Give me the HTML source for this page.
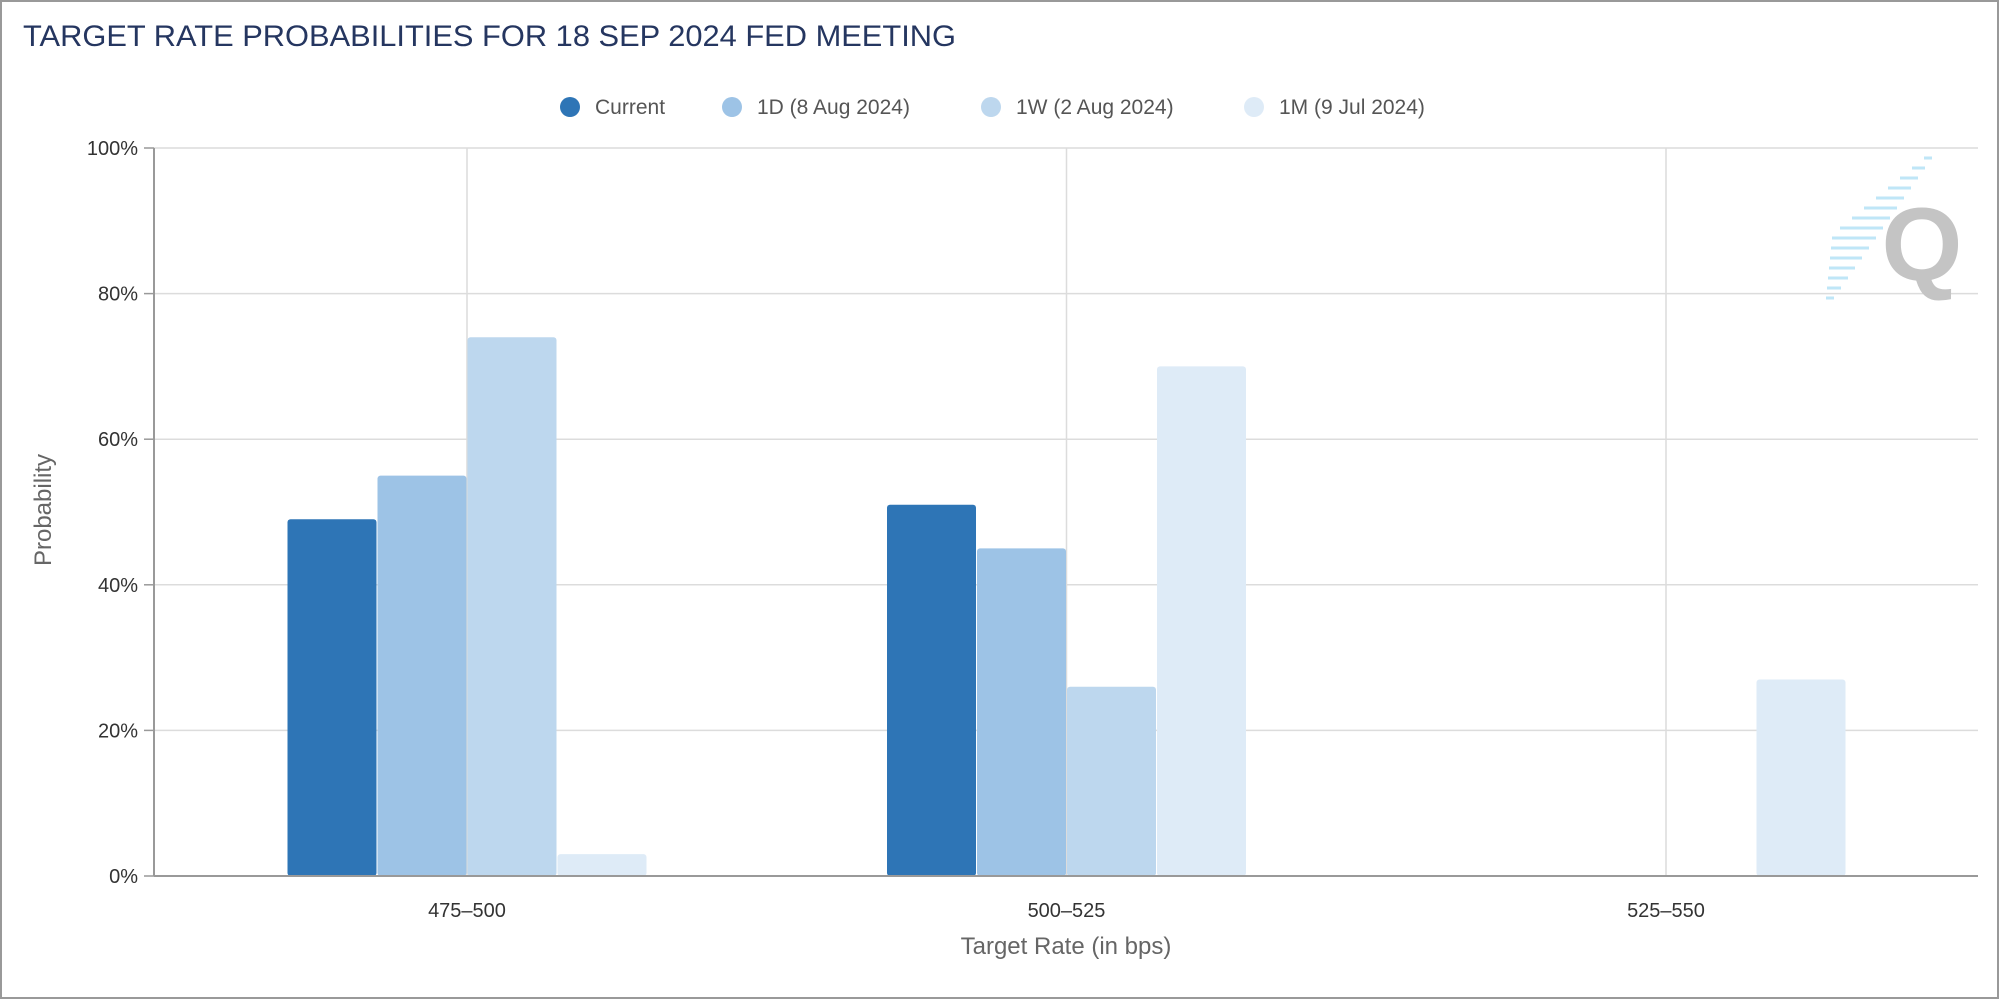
<!DOCTYPE html>
<html><head><meta charset="utf-8"><style>
html,body{margin:0;padding:0;background:#fff;}
svg{display:block;font-family:"Liberation Sans",sans-serif;}
</style></head><body>
<svg id="chart" width="2000" height="1000" viewBox="0 0 2000 1000">
<rect x="1" y="1" width="1997" height="997" fill="#fff" stroke="#999" stroke-width="2"/>
<text x="23" y="46" font-size="30" fill="#253660" textLength="933" lengthAdjust="spacingAndGlyphs">TARGET RATE PROBABILITIES FOR 18 SEP 2024 FED MEETING</text>
<g id="grid"></g>
<g id="watermark">
<text x="1922" y="280" font-size="104" font-weight="bold" fill="#c4c4c4" text-anchor="middle">Q</text>
</g>
<g id="bars"></g>
<g id="axes"></g>
<g id="legend"></g>
<text x="1066" y="954" font-size="24" fill="#666" text-anchor="middle">Target Rate (in bps)</text>
<text transform="translate(51,510) rotate(-90)" font-size="24" fill="#666" text-anchor="middle">Probability</text>
</svg>
<script>
const categories = ["475-500", "500-525", "525-550"];
const seriesNames = ["Current", "1D (8 Aug 2024)", "1W (2 Aug 2024)", "1M (9 Jul 2024)"];
const currentValues = [49, 51, 0];
const oneDayValues = [55, 45, 0];
const oneWeekValues = [74, 26, 0];
const oneMonthValues = [3, 70, 27];
const yTicks = [0, 20, 40, 60, 80, 100];

const NS = "http://www.w3.org/2000/svg";
const colors = ["#2e75b6", "#9dc3e6", "#bdd7ee", "#deebf7"];
const series = [currentValues, oneDayValues, oneWeekValues, oneMonthValues];
const L = 154, R = 1978, T = 148, B = 876;
const catW = 599.5, firstC = 467;
function yScale(v) { return B - (v / 100) * (B - T); }
function xCenter(i) { return firstC + catW * i; }
function mk(tag, attrs, parent) {
  const e = document.createElementNS(NS, tag);
  for (const k in attrs) e.setAttribute(k, attrs[k]);
  parent.appendChild(e);
  return e;
}
const grid = document.getElementById("grid");
const axes = document.getElementById("axes");
const bars = document.getElementById("bars");
const legend = document.getElementById("legend");

yTicks.forEach(t => {
  const y = yScale(t);
  const gl = mk("line", {x1: L, x2: R, y1: y, y2: y, stroke: "#dcdcdc", "stroke-width": 1.5}, grid);
  
  
  const tk = mk("line", {x1: L - 10, x2: L, y1: y, y2: y, stroke: "#999", "stroke-width": 1.5}, axes);
  
  
  const lb = mk("text", {x: L - 16, y: y + 7, "font-size": 20, fill: "#333", "text-anchor": "end"}, axes);
  lb.textContent = t + "%";
  
  
});
categories.forEach((c, i) => {
  const x = xCenter(i);
  const gl = mk("line", {x1: x, x2: x, y1: T, y2: B, stroke: "#dcdcdc", "stroke-width": 1.5}, grid);
  
  
  const lb = mk("text", {x: x, y: 917, "font-size": 20, fill: "#333", "text-anchor": "middle"}, axes);
  lb.textContent = c.replace("-", "–");
  
  
});
const ya = mk("line", {x1: L, x2: L, y1: T, y2: B, stroke: "#999", "stroke-width": 2}, axes);


const xa = mk("line", {x1: L, x2: R, y1: B, y2: B, stroke: "#999", "stroke-width": 2}, axes);



const groupW = 360, barW = groupW / series.length;
series.forEach((vals, s) => {
  vals.forEach((v, i) => {
    if (v <= 0) return;
    const x = xCenter(i) - groupW / 2 + s * barW;
    const y = yScale(v);
    const b = mk("rect", {x: x + 0.5, y: y, width: barW - 1, height: B - y, rx: 3, fill: colors[s]}, bars);
    
    
  });
});

const legX = [570, 732, 991, 1254];
seriesNames.forEach((n, s) => {
  const g = mk("g", {}, legend);
  
  
  mk("circle", {cx: legX[s], cy: 107, r: 10, fill: colors[s]}, g);
  const t = mk("text", {x: legX[s] + 25, y: 114, "font-size": 21, fill: "#555"}, g);
  t.textContent = n;
});

const wm = document.getElementById("watermark");
for (let k = 0; k < 15; k++) {
  const y = 158 + k * 10;
  const len = 8 + (k < 8 ? k * 5 : (14 - k) * 6);
  const x2 = 1932 - k * 7;
  const l = mk("line", {x1: x2 - len, x2: x2, y1: y, y2: y, stroke: "#bfe6f7", "stroke-width": 3}, wm);
  
  
}
</script>
</body></html>
